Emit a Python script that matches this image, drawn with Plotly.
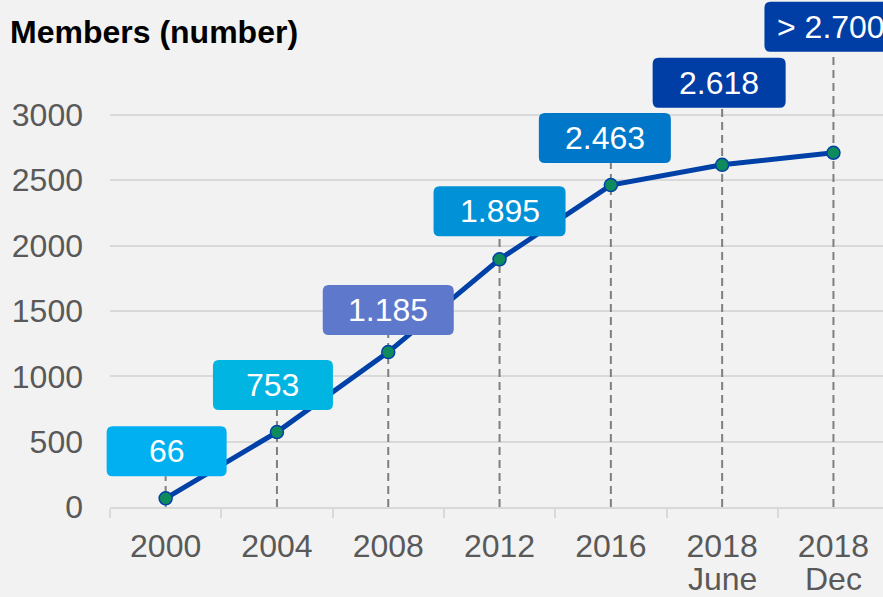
import plotly.graph_objects as go

# ---- data ----
categories = ["2000", "2004", "2008", "2012", "2016", "2018<br>June", "2018<br>Dec"]
members = [66, 573, 1185, 1895, 2463, 2618, 2710]
value_labels = ["66", "753", "1.185", "1.895", "2.463", "2.618", "> 2.700"]
y_tick_values = [0, 500, 1000, 1500, 2000, 2500, 3000]

# ---- styling ----
box_colors = ["#00B0F0", "#00B5E2", "#5E78CC", "#0091D6", "#0077C8", "#003DA5", "#003DA5"]
box_dx = [1, -4, 0, 0, -6, -3, -2]        # px offset of box centre from point
box_dy = [47, 47, 42, 48, 47, 82, 126]    # px offset (upwards) of box centre from point
box_w = [120, 120, 131, 132, 132, 133, 134]
box_h = 50
radius = 6

W, H = 883, 597
M_L, M_R, M_T, M_B = 110, 0, 0, 90
Y_MAX = 3879
CAT_PX = 111.3
plot_w = W - M_L - M_R
plot_h = H - M_T - M_B
ppu = plot_h / Y_MAX
x_range = [-0.5, -0.5 + plot_w / CAT_PX]

FONT = "Liberation Sans, Arial, Helvetica, sans-serif"

fig = go.Figure()

# dashed drop lines from box bottom down to the axis
dx_list, dy_list = [], []
for i, c in enumerate(categories):
    top = members[i] + (box_dy[i] - box_h / 2) / ppu
    dx_list += [c, c, None]
    dy_list += [0, top, None]
fig.add_trace(go.Scatter(
    x=dx_list, y=dy_list, mode="lines",
    line=dict(color="#7F7F7F", width=2, dash="8px,5px"),
    hoverinfo="skip", showlegend=False, cliponaxis=False,
))

# main line
fig.add_trace(go.Scatter(
    x=categories, y=members, mode="lines+markers",
    line=dict(color="#0041A8", width=5),
    marker=dict(size=13, color="#0E8A5C", line=dict(color="#0041A8", width=1.5)),
    showlegend=False,
))

shapes = []
annotations = []
for i, c in enumerate(categories):
    x0 = box_dx[i] - box_w[i] / 2
    x1 = box_dx[i] + box_w[i] / 2
    y0 = box_dy[i] - box_h / 2
    y1 = box_dy[i] + box_h / 2
    r = radius
    path = (f"M {x0+r},{y0} L {x1-r},{y0} Q {x1},{y0} {x1},{y0+r} "
            f"L {x1},{y1-r} Q {x1},{y1} {x1-r},{y1} L {x0+r},{y1} "
            f"Q {x0},{y1} {x0},{y1-r} L {x0},{y0+r} Q {x0},{y0} {x0+r},{y0} Z")
    # anchor in paper fractions so the box is not clipped to the plot area
    ax_frac = (i - x_range[0]) / (x_range[1] - x_range[0])
    ay_frac = members[i] / Y_MAX
    shapes.append(dict(
        type="path", xref="paper", yref="paper", xsizemode="pixel", ysizemode="pixel",
        xanchor=ax_frac, yanchor=ay_frac, path=path,
        fillcolor=box_colors[i], line=dict(width=0), layer="above",
    ))
    annotations.append(dict(
        x=i, y=members[i], xref="x", yref="y", xshift=box_dx[i], yshift=box_dy[i],
        text=value_labels[i], showarrow=False,
        font=dict(family=FONT, size=32, color="white"),
    ))

# category tick labels: first line as axis tick text, second line placed tighter below
tick_first = [c.split("<br>")[0] for c in categories]
for i, c in enumerate(categories):
    parts = c.split("<br>")
    if len(parts) > 1:
        annotations.append(dict(
            x=i, y=0, xref="x", yref="paper", yshift=-72, yanchor="middle",
            text=parts[1], showarrow=False,
            font=dict(family=FONT, size=32, color="#595959"),
        ))

fig.update_layout(
    width=W, height=H,
    margin=dict(l=M_L, r=M_R, t=M_T, b=M_B, autoexpand=False),
    paper_bgcolor="#F2F2F2", plot_bgcolor="#F2F2F2",
    font=dict(family=FONT, size=32, color="#595959"),
    title=dict(text="<b>Members (number)</b>", x=10 / W, xanchor="left", xref="container",
               y=1 - 32 / H, yanchor="middle", yref="container",
               font=dict(family=FONT, size=32, color="black")),
    shapes=shapes, annotations=annotations,
    xaxis=dict(
        type="category", range=x_range, automargin=False,
        tickvals=categories, ticktext=tick_first,
        showline=True, linecolor="#D9D9D9", linewidth=2,
        ticks="outside", tickson="boundaries", ticklen=9, tickcolor="#D9D9D9", tickwidth=2,
        showgrid=False, tickfont=dict(size=32, color="#595959"), fixedrange=True,
        ticklabelstandoff=10,
    ),
    yaxis=dict(
        range=[0, Y_MAX], tickvals=y_tick_values, showgrid=True, automargin=False,
        gridcolor="#D9D9D9", gridwidth=2, zeroline=False, showline=False,
        ticks="", ticklabelstandoff=26, tickfont=dict(size=32, color="#595959"),
        fixedrange=True,
    ),
)

fig.write_html("out.html", config={"displayModeBar": False},
               post_script="document.body.style.margin='0';")
